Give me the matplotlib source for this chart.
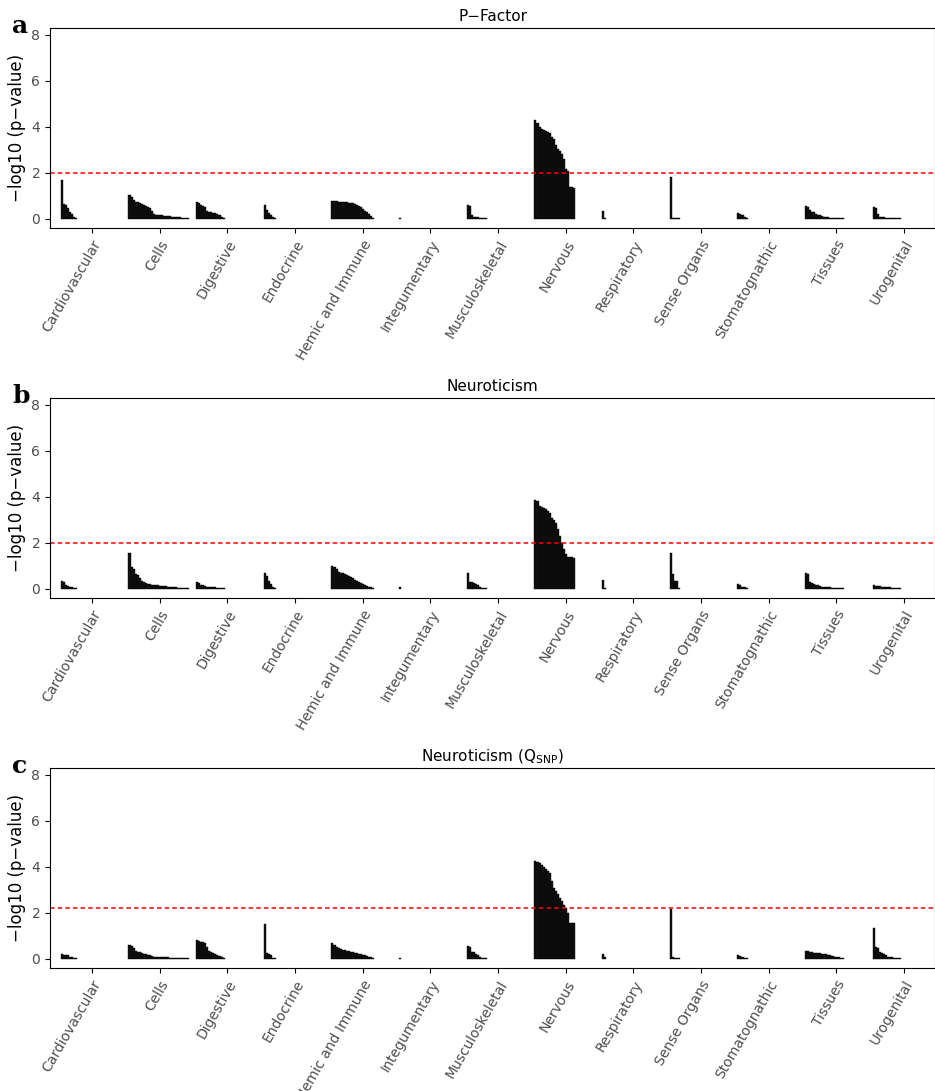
import matplotlib.pyplot as plt

categories = ['Cardiovascular', 'Cells', 'Digestive', 'Endocrine', 'Hemic and Immune',
              'Integumentary', 'Musculoskeletal', 'Nervous', 'Respiratory', 'Sense Organs',
              'Stomatognathic', 'Tissues', 'Urogenital']

pfactor = {
    'Cardiovascular': [1.7, 0.65, 0.6, 0.45, 0.3, 0.2, 0.1, 0.05],
    'Cells': [1.02, 0.95, 0.8, 0.75, 0.72, 0.7, 0.65, 0.6, 0.55, 0.5, 0.45, 0.35, 0.2, 0.18, 0.17,
              0.16, 0.15, 0.14, 0.13, 0.12, 0.11, 0.1, 0.09, 0.08, 0.07, 0.06, 0.05, 0.04, 0.03, 0.02],
    'Digestive': [0.72, 0.68, 0.6, 0.55, 0.5, 0.35, 0.3, 0.28, 0.27, 0.25, 0.2, 0.15, 0.08, 0.03],
    'Endocrine': [0.6, 0.4, 0.25, 0.15, 0.08, 0.03],
    'Hemic and Immune': [0.78, 0.77, 0.76, 0.75, 0.74, 0.73, 0.72, 0.71, 0.7, 0.69, 0.68, 0.65, 0.6,
                         0.55, 0.5, 0.42, 0.35, 0.3, 0.22, 0.12, 0.05],
    'Integumentary': [0.05],
    'Musculoskeletal': [0.58, 0.57, 0.15, 0.1, 0.08, 0.06, 0.05, 0.04, 0.03, 0.02],
    'Nervous': [4.28, 4.15, 4.0, 3.9, 3.85, 3.8, 3.78, 3.75, 3.55, 3.45, 3.2, 3.05, 2.95, 2.8, 2.6,
                2.15, 2.1, 1.4, 1.38, 1.35],
    'Respiratory': [0.35, 0.05],
    'Sense Organs': [1.8, 0.05, 0.04, 0.03, 0.02],
    'Stomatognathic': [0.25, 0.2, 0.15, 0.08, 0.03],
    'Tissues': [0.55, 0.5, 0.4, 0.3, 0.28, 0.22, 0.18, 0.15, 0.12, 0.1, 0.08, 0.06, 0.05, 0.04,
                0.03, 0.03, 0.02, 0.02, 0.02],
    'Urogenital': [0.5, 0.45, 0.2, 0.1, 0.08, 0.06, 0.05, 0.05, 0.04, 0.04, 0.03, 0.03, 0.02, 0.02],
}

neuro = {
    'Cardiovascular': [0.35, 0.3, 0.15, 0.12, 0.1, 0.08, 0.05, 0.03],
    'Cells': [1.55, 0.95, 0.85, 0.65, 0.6, 0.45, 0.35, 0.3, 0.25, 0.22, 0.2, 0.18, 0.17, 0.16, 0.15,
              0.14, 0.13, 0.12, 0.11, 0.1, 0.09, 0.08, 0.07, 0.06, 0.05, 0.05, 0.04, 0.04, 0.03, 0.03],
    'Digestive': [0.3, 0.25, 0.18, 0.15, 0.12, 0.1, 0.09, 0.08, 0.07, 0.06, 0.05, 0.04, 0.03, 0.02],
    'Endocrine': [0.68, 0.55, 0.35, 0.2, 0.1, 0.05],
    'Hemic and Immune': [1.0, 0.95, 0.85, 0.75, 0.7, 0.68, 0.65, 0.6, 0.55, 0.5, 0.45, 0.4, 0.35,
                         0.3, 0.25, 0.2, 0.15, 0.12, 0.1, 0.08, 0.05],
    'Integumentary': [0.1],
    'Musculoskeletal': [0.68, 0.3, 0.28, 0.25, 0.2, 0.15, 0.1, 0.05, 0.04, 0.03],
    'Nervous': [3.85, 3.8, 3.6, 3.55, 3.5, 3.45, 3.4, 3.3, 3.1, 3.0, 2.85, 2.6, 2.3, 2.0, 1.75,
                1.5, 1.4, 1.4, 1.38, 1.35],
    'Respiratory': [0.4, 0.05],
    'Sense Organs': [1.55, 0.65, 0.35, 0.33, 0.03],
    'Stomatognathic': [0.2, 0.15, 0.08, 0.06, 0.04],
    'Tissues': [0.7, 0.65, 0.3, 0.25, 0.2, 0.18, 0.15, 0.12, 0.1, 0.1, 0.08, 0.07, 0.06, 0.05,
                0.05, 0.04, 0.04, 0.03, 0.03],
    'Urogenital': [0.15, 0.14, 0.13, 0.12, 0.1, 0.09, 0.08, 0.07, 0.06, 0.05, 0.05, 0.04, 0.04, 0.03],
}

neuro_q = {
    'Cardiovascular': [0.2, 0.18, 0.17, 0.15, 0.1, 0.08, 0.05, 0.03],
    'Cells': [0.6, 0.55, 0.45, 0.35, 0.3, 0.28, 0.25, 0.22, 0.2, 0.18, 0.15, 0.12, 0.1, 0.09, 0.08,
              0.08, 0.07, 0.07, 0.06, 0.06, 0.05, 0.05, 0.05, 0.04, 0.04, 0.04, 0.03, 0.03, 0.03, 0.03],
    'Digestive': [0.8, 0.78, 0.75, 0.72, 0.7, 0.5, 0.35, 0.3, 0.25, 0.2, 0.18, 0.12, 0.06, 0.03],
    'Endocrine': [1.5, 0.25, 0.2, 0.15, 0.05, 0.03],
    'Hemic and Immune': [0.7, 0.6, 0.5, 0.45, 0.42, 0.4, 0.38, 0.35, 0.32, 0.3, 0.28, 0.26, 0.24,
                         0.22, 0.2, 0.18, 0.15, 0.12, 0.1, 0.08, 0.05],
    'Integumentary': [0.05],
    'Musculoskeletal': [0.55, 0.5, 0.3, 0.28, 0.2, 0.15, 0.1, 0.05, 0.04, 0.03],
    'Nervous': [4.25, 4.2, 4.15, 4.1, 4.0, 3.9, 3.8, 3.75, 3.4, 3.1, 2.95, 2.8, 2.65, 2.5, 2.35,
                2.2, 2.0, 1.55, 1.55, 1.55],
    'Respiratory': [0.2, 0.1],
    'Sense Organs': [2.15, 0.1, 0.05, 0.04, 0.03],
    'Stomatognathic': [0.15, 0.12, 0.08, 0.05, 0.03],
    'Tissues': [0.35, 0.33, 0.3, 0.28, 0.27, 0.26, 0.25, 0.24, 0.23, 0.22, 0.2, 0.18, 0.15, 0.12,
                0.1, 0.08, 0.06, 0.05, 0.04],
    'Urogenital': [1.35, 0.5, 0.45, 0.3, 0.25, 0.2, 0.15, 0.1, 0.08, 0.06, 0.05, 0.04, 0.03, 0.03],
}

panels = [('a', 'P\u2212Factor', pfactor, 2.0),
          ('b', 'Neuroticism', neuro, 2.0),
          ('c', r'Neuroticism ($\mathregular{Q_{SNP}}$)', neuro_q, 2.2)]

fig = plt.figure(figsize=(9.35, 10.91), dpi=100)
W, H = 935, 1091
tops = [28, 398, 768]
w = 0.03
for (letter, title, data, thr), top in zip(panels, tops):
    ax = fig.add_axes([50 / W, 1 - (top + 200) / H, 885 / W, 200 / H])
    for i, cat in enumerate(categories):
        vals = data[cat]
        xs = [i - 0.46 + w * (j + 0.5) for j in range(len(vals))]
        ax.bar(xs, vals, width=w, color='#111111', edgecolor='black', linewidth=0.3)
    ax.axhline(thr, color='red', linestyle='--', linewidth=1.1, dashes=(3, 2))
    ax.set_xlim(-0.62, 12.46)
    ax.set_ylim(-0.4, 8.3)
    ax.set_yticks([0, 2, 4, 6, 8])
    ax.set_xticks(range(len(categories)))
    ax.set_xticklabels(categories, rotation=60, ha='right', rotation_mode='anchor',
                       fontsize=10, color='#4d4d4d')
    ax.tick_params(axis='y', labelsize=10, labelcolor='#4d4d4d')
    ax.set_ylabel('\u2212log10 (p\u2212value)', fontsize=12)
    ax.set_title(title, fontsize=11, pad=5)
    fig.text(12 / W, 1 - (top - 2) / H, letter, fontsize=18, fontweight='bold',
             family='DejaVu Serif', va='center')

plt.savefig('out.png', dpi=100)
